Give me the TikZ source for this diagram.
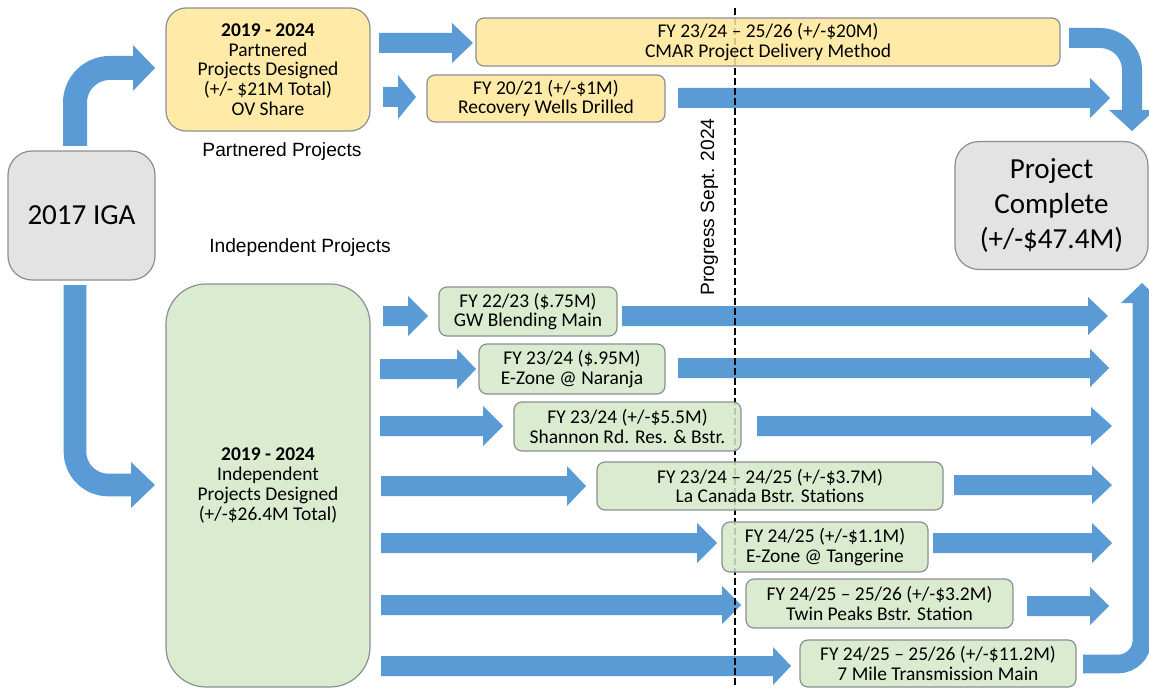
\documentclass[tikz,border=0pt]{standalone}
\usepackage{fontspec}
\setmainfont{Carlito}
\newfontfamily\arialf{Liberation Sans}
\definecolor{ablue}{HTML}{5B9BD5}
\definecolor{yel}{HTML}{FFE699}
\definecolor{grn}{HTML}{D5E8C8}
\definecolor{gry}{HTML}{DEDEDE}
\definecolor{boxline}{HTML}{8A8F94}
\tikzset{
  box/.style={draw=boxline, line width=0.9pt, fill opacity=0.86, text opacity=1,
    align=center, inner sep=0pt, font=\fontsize{14.6}{14.8}\selectfont},
  ybox/.style={box, fill=yel, rounded corners=6pt},
  gbox/.style={box, fill=grn, rounded corners=6pt},
  bigbox/.style={box, fill=gry, rounded corners=18pt, font=\fontsize{21.8}{26.6}\selectfont},
  sz/.style 2 args={minimum width=#1*0.75pt, minimum height=#2*0.75pt},
  arr/.style={fill=ablue},
  shaft/.style={draw=ablue, line width=#1, line cap=butt},
  lbl/.style={font=\arialf\fontsize{14.4}{16}\selectfont, inner sep=0pt},
  progline/.style={draw=black, line width=1.4pt, dash pattern=on 5pt off 2.5pt},
}
\newcommand\harr[5]{\fill[arr] (#1,#4-10) -- (#2,#4-10) -- (#2,#4-#5) -- (#3,#4) -- (#2,#4+#5) -- (#2,#4+10) -- (#1,#4+10) -- cycle;}
\begin{document}
\begin{tikzpicture}[x=0.75pt, y=-0.75pt]
\useasboundingbox (0,0) rectangle (1149,688);
% ---- curved arrows ----
\draw[shaft=18pt, rounded corners=26pt] (75,146) |- (134,68);
\fill[arr] (133,45) -- (155,68) -- (133,91) -- cycle;
\draw[shaft=17pt, rounded corners=25pt] (75,285) |- (132,485);
\fill[arr] (131,462) -- (155,485) -- (131,508) -- cycle;
\draw[shaft=15pt, rounded corners=24pt] (1069,38) -| (1132,111);
\fill[arr] (1109,110) -- (1132,131) -- (1155,110) -- cycle;
\draw[shaft=14pt, rounded corners=18pt] (1083,664) -| (1142,302);
\fill[arr] (1121,303) -- (1142,283) -- (1163,303) -- cycle;
% ---- straight arrows ----
\harr{379}{452}{473}{43}{20}
\harr{383}{398}{416}{97}{22}
\harr{678}{1090}{1110}{98}{20}
\harr{383}{408}{428}{316}{20}
\harr{622}{1088}{1108}{316}{19}
\harr{380}{457}{476}{369}{20}
\harr{678}{1090}{1109}{368}{19}
\harr{380}{483}{503}{426}{20}
\harr{757}{1091}{1112}{426}{19}
\harr{381}{567}{586}{486}{20}
\harr{954}{1092}{1112}{485}{19}
\harr{381}{697}{717}{543}{20}
\harr{933}{1092}{1112}{543}{20}
\harr{381}{722}{741}{605}{19}
\harr{1027}{1090}{1109}{606}{19}
\harr{381}{773}{791}{666}{19}
% ---- progress line ----
\coordinate (pt) at (735,8);
\coordinate (pb) at (735,690);
\draw[progline] (pt) -- (pb);
\node[lbl, rotate=90, anchor=base] (prog) at (714,207) {Progress Sept. 2024};
% ---- boxes ----
\node[bigbox, sz={147}{129}] (iga) at (81.5,215.5) {2017 IGA};
\node[box, fill=yel, rounded corners=15pt, sz={204}{123}] (part) at (268,69.5)
  {\textbf{2019 - 2024}\\Partnered\\Projects Designed\\(+/- \$21M Total)\\OV Share};
\node[box, fill=grn, rounded corners=30pt, sz={204}{403}] (indep) at (268,485.5)
  {\textbf{2019 - 2024}\\Independent\\Projects Designed\\(+/-\$26.4M Total)};
\node[ybox, sz={584}{48}] (cmar) at (768,42) {FY 23/24 – 25/26 (+/-\$20M)\\CMAR Project Delivery Method};
\node[ybox, sz={238}{47}] (rec) at (546,98.5) {FY 20/21 (+/-\$1M)\\Recovery Wells Drilled};
\node[gbox, sz={178}{49}] (gw) at (528,311.5) {FY 22/23 (\$.75M)\\GW Blending Main};
\node[gbox, sz={186}{50}] (nar) at (572,369) {FY 23/24 (\$.95M)\\E-Zone @ Naranja};
\node[gbox, sz={227}{49}] (sha) at (627.5,426.5) {FY 23/24 (+/-\$5.5M)\\Shannon Rd. Res. \& Bstr.};
\node[gbox, sz={346}{48}] (lac) at (770,486) {FY 23/24 – 24/25 (+/-\$3.7M)\\La Canada Bstr. Stations};
\node[gbox, sz={206}{50}] (tan) at (825,547) {FY 24/25 (+/-\$1.1M)\\E-Zone @ Tangerine};
\node[gbox, sz={267}{49}] (twin) at (879.5,603.5) {FY 24/25 – 25/26 (+/-\$3.2M)\\Twin Peaks Bstr. Station};
\node[gbox, sz={276}{47}] (mile) at (938,663.5) {FY 24/25 – 25/26 (+/-\$11.2M)\\7 Mile Transmission Main};
\node[bigbox, sz={193}{128}] (done) at (1051.5,205.5) {Project\\Complete\\(+/-\$47.4M)};
% ---- labels ----
\node[lbl, anchor=base] (lblpart) at (282,157) {Partnered Projects};
\node[lbl, anchor=base] (lblind) at (300,252) {Independent Projects};
\end{tikzpicture}
\end{document}
